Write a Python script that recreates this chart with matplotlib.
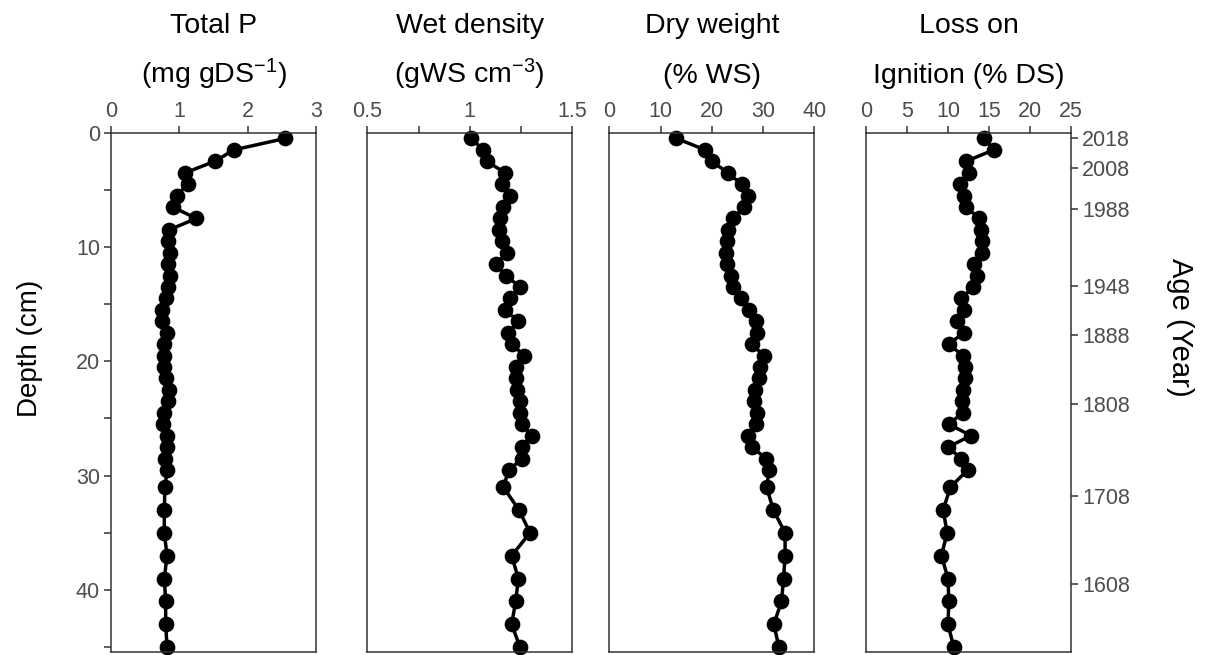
import matplotlib
matplotlib.use("Agg")
import matplotlib.pyplot as plt
import numpy as np

plt.rcParams['font.family'] = ['Liberation Sans', 'DejaVu Sans']
plt.rcParams['mathtext.fontset'] = 'custom'
plt.rcParams['mathtext.rm'] = 'Liberation Sans'
plt.rcParams['mathtext.default'] = 'regular'

# sediment core profiles (depth in cm, slice mid-points)
depth = [0.5, 1.5, 2.5, 3.5, 4.5, 5.5, 6.5, 7.5, 8.5, 9.5,
         10.5, 11.5, 12.5, 13.5, 14.5, 15.5, 16.5, 17.5, 18.5, 19.5,
         20.5, 21.5, 22.5, 23.5, 24.5, 25.5, 26.5, 27.5, 28.5, 29.5,
         31, 33, 35, 37, 39, 41, 43, 45]

total_p = [2.55, 1.80, 1.52, 1.09, 1.12, 0.96, 0.90, 1.25, 0.85, 0.83,
           0.86, 0.83, 0.86, 0.84, 0.81, 0.75, 0.75, 0.82, 0.77, 0.77,
           0.77, 0.80, 0.85, 0.83, 0.77, 0.76, 0.82, 0.82, 0.79, 0.82,
           0.79, 0.78, 0.78, 0.82, 0.78, 0.80, 0.80, 0.82]

wet_density = [1.006, 1.066, 1.082, 1.172, 1.159, 1.196, 1.163, 1.147, 1.142, 1.155,
               1.183, 1.126, 1.177, 1.245, 1.196, 1.172, 1.237, 1.188, 1.207, 1.264,
               1.225, 1.224, 1.229, 1.245, 1.245, 1.253, 1.302, 1.253, 1.256, 1.191,
               1.163, 1.240, 1.294, 1.204, 1.237, 1.224, 1.204, 1.245]

dry_weight = [13.1, 18.7, 20.0, 23.1, 25.8, 27.1, 26.3, 24.1, 23.2, 22.9,
              22.8, 23.0, 23.7, 24.2, 25.7, 27.3, 28.6, 28.8, 27.8, 30.2,
              29.4, 29.3, 28.4, 28.3, 28.9, 28.6, 27.1, 27.8, 30.6, 31.2,
              30.7, 32.0, 34.3, 34.3, 34.0, 33.6, 32.1, 33.1]

loi = [14.45, 15.6, 12.2, 12.6, 11.5, 12.0, 12.2, 13.8, 14.0, 14.2,
       14.1, 13.2, 13.5, 13.1, 11.6, 12.0, 11.1, 11.9, 10.1, 11.8,
       12.1, 12.1, 11.8, 11.7, 11.8, 10.1, 12.8, 10.0, 11.6, 12.4,
       10.3, 9.4, 9.9, 9.2, 10.0, 10.1, 10.0, 10.7]

# age model: calendar years at their depths
age_years = ['2018', '2008', '1988', '1948', '1888', '1808', '1708', '1608']
age_depths = [0.5, 3.1, 6.7, 13.4, 17.7, 23.7, 31.75, 39.5]

titles = [("Total P", "(mg gDS$^{-1}$)"),
          ("Wet density", "(gWS cm$^{-3}$)"),
          ("Dry weight", "(% WS)"),
          ("Loss on", "Ignition (% DS)")]
series = [total_p, wet_density, dry_weight, loi]
xlims = [(0, 3), (0.5, 1.5), (0, 40), (0, 25)]
xticks = [[0, 1, 2, 3], [0.5, 0.75, 1, 1.25, 1.5], [0, 10, 20, 30, 40], [0, 5, 10, 15, 20, 25]]
xticklabels = [['0', '1', '2', '3'], ['0.5', '', '1', '', '1.5'],
               ['0', '10', '20', '30', '40'], ['0', '5', '10', '15', '20', '25']]

W, H = 1205, 655
fig = plt.figure(figsize=(W / 100, H / 100), dpi=100)

lefts = [111, 367.3, 609.3, 866]
pw = 205
top_px, bot_px = 132.7, 651.7
frame_col = '#333333'
label_col = '#4d4d4d'

axes = []
for i in range(4):
    ax = fig.add_axes([lefts[i] / W, 1 - bot_px / H, pw / W, (bot_px - top_px) / H])
    ax.plot(series[i], depth, color='black', lw=2.5, marker='o', ms=10.3,
            solid_joinstyle='round', clip_on=False)
    ax.set_xlim(*xlims[i])
    ax.set_ylim(45.4, 0)
    ax.xaxis.tick_top()
    ax.set_xticks(xticks[i])
    ax.set_xticklabels(xticklabels[i])
    for s in ax.spines.values():
        s.set_color(frame_col)
        s.set_linewidth(1.1)
    ax.tick_params(axis='both', colors=frame_col, labelcolor=label_col,
                   labelsize=15.5, length=5, width=1.1, pad=3)

    cx = (lefts[i] + pw / 2) / W
    fig.text(cx, 1 - 33 / H, titles[i][0], ha='center', va='baseline', fontsize=20.5)
    fig.text(cx, 1 - 83 / H, titles[i][1], ha='center', va='baseline', fontsize=20.5)
    axes.append(ax)

# depth scale on the first panel only
axes[0].set_yticks(np.arange(0, 46, 5))
axes[0].set_yticklabels([str(d) if d % 10 == 0 else '' for d in range(0, 46, 5)])
for ax in axes[1:]:
    ax.set_yticks([])

# age scale on the right of the last panel
axes[3].yaxis.tick_right()
axes[3].set_yticks(age_depths)
axes[3].set_yticklabels(age_years)

fig.text(30 / W, 1 - 348 / H, "Depth (cm)", rotation=90, ha='center', va='center', fontsize=20)
fig.text(1180 / W, 1 - 327 / H, "Age (Year)", rotation=-90, ha='center', va='center', fontsize=21)

fig.savefig("out.png", dpi=100)
